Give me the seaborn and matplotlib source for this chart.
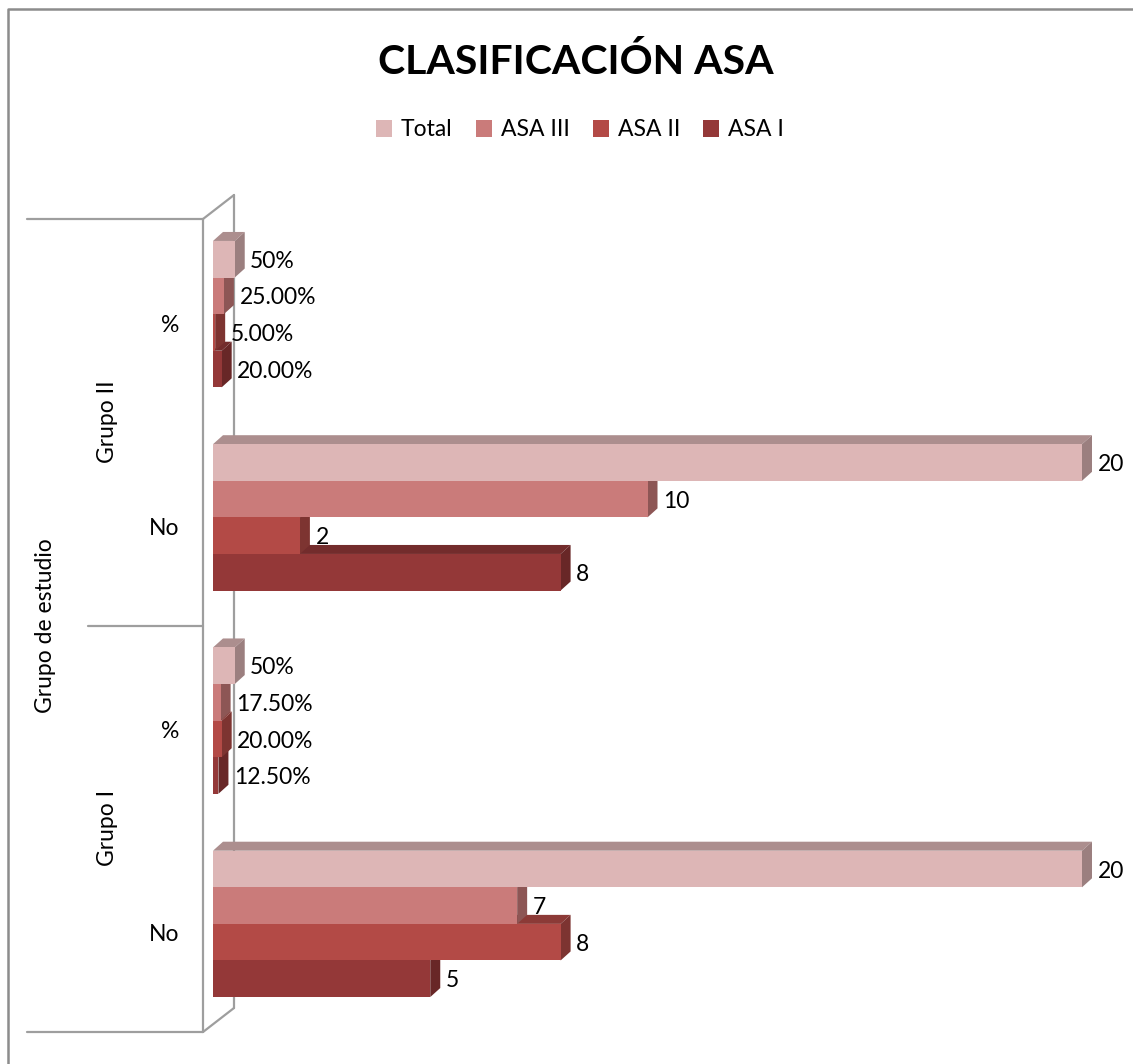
import numpy as np
import pandas as pd
import seaborn as sns
import matplotlib.pyplot as plt
from matplotlib.patches import Polygon
from matplotlib.lines import Line2D
from matplotlib.transforms import ScaledTranslation
from matplotlib.colors import to_rgb

# ---- data ---------------------------------------------------------------
series = ["Total", "ASA III", "ASA II", "ASA I"]
groups = ["Grupo II", "Grupo II", "Grupo I", "Grupo I"]
measures = ["%", "No", "%", "No"]
grupo2_pct = [0.50, 0.25, 0.05, 0.20]
grupo2_no = [20, 10, 2, 8]
grupo1_pct = [0.50, 0.175, 0.20, 0.125]
grupo1_no = [20, 7, 8, 5]
pct_decimals = [0, 2, 2, 2]          # number format per series for the % rows
palette = ["#DDB6B6", "#CA7B7A", "#B34A46", "#943838"]

rows = [f"{g} {m}" for g, m in zip(groups, measures)]
values = [grupo2_pct, grupo2_no, grupo1_pct, grupo1_no]
df = pd.DataFrame(
    [{"fila": r, "serie": s, "valor": v}
     for r, vals in zip(rows, values)
     for s, v in zip(series, vals)]
)

# ---- figure -------------------------------------------------------------
sns.set_style("white")
plt.rcParams["font.family"] = ["Lato", "DejaVu Sans"]
plt.rcParams["text.color"] = "black"
plt.rcParams["ytick.color"] = "black"
plt.rcParams["ytick.labelcolor"] = "black"

W, H = 1133, 1064
fig = plt.figure(figsize=(W / 100, H / 100), dpi=100)


def fx(x):
    return x / W


def fy(y):
    return 1 - y / H


ax = fig.add_axes([fx(213), fy(1025.5), (1082 - 213) / W, 813 / H])
sns.barplot(
    data=df, y="fila", x="valor", hue="serie", order=rows, hue_order=series,
    palette=palette, orient="h", width=0.72, linewidth=0, saturation=1, ax=ax,
)
handles, labels = ax.get_legend_handles_labels()
if ax.get_legend() is not None:
    ax.get_legend().remove()

ax.set_xlim(0, 20)
ax.set_ylim(3.5, -0.5)
ax.patch.set_visible(False)
for sp in ax.spines.values():
    sp.set_visible(False)
ax.set_xticks([])
ax.set_xlabel("")
ax.set_ylabel("")
ax.set_yticks(range(len(rows)))
ax.set_yticklabels(measures)
ax.tick_params(axis="y", length=0, pad=24, labelsize=16.5, labelcolor="black")
shift = ScaledTranslation(0, -0.09, fig.dpi_scale_trans)
for tick in ax.yaxis.get_major_ticks():
    tick.label1.set_transform(tick.label1.get_transform() + shift)

# ---- 3-D faces and value labels ------------------------------------------
px_x = 20 / (1082 - 213)        # data units per pixel along x
px_y = 4 / 813                  # data units per pixel along y
dx, dy = 10 * px_x, 9 * px_y


def shade(c, f):
    r, g, b = to_rgb(c)
    return (r * f, g * f, b * f)


for i, cont in enumerate(ax.containers):
    z = 3 + (len(series) - i)
    col = palette[i]
    for j, rect in enumerate(cont.patches):
        x0 = rect.get_x()
        x1 = x0 + rect.get_width()
        yt = rect.get_y()
        yb = yt + rect.get_height()
        rect.set_zorder(z + 0.2)
        top = Polygon([(x0, yt), (x1, yt), (x1 + dx, yt - dy), (x0 + dx, yt - dy)],
                      closed=True, facecolor=shade(col, 0.78), edgecolor="none",
                      zorder=z + 0.1, clip_on=False)
        side = Polygon([(x1, yt), (x1 + dx, yt - dy), (x1 + dx, yb - dy), (x1, yb)],
                       closed=True, facecolor=shade(col, 0.70), edgecolor="none",
                       zorder=z + 0.1, clip_on=False)
        ax.add_patch(top)
        ax.add_patch(side)

        v = values[j][i]
        if measures[j] == "%":
            txt = f"{v:.{pct_decimals[i]}%}"
        else:
            txt = f"{v:g}"
        ax.annotate(txt, xy=(x1 + dx, (yt + yb) / 2), xytext=(4, -1.5),
                    textcoords="offset points", ha="left", va="center",
                    fontsize=16.5, color="black", zorder=20,
                    annotation_clip=False)

# ---- walls, category separators and outer frame --------------------------
grey = "#9E9E9E"
segments = [
    ((203, 219), (203, 1032)),
    ((234, 195), (234, 1008)),
    ((203, 219), (234, 195)),
    ((203, 1032), (234, 1008)),
    ((27, 219), (203, 219)),
    ((88, 626), (203, 626)),
    ((27, 1032), (203, 1032)),
]
for (xa, ya), (xb, yb) in segments:
    fig.add_artist(Line2D([fx(xa), fx(xb)], [fy(ya), fy(yb)], color=grey,
                          lw=1.6, zorder=-1))
fig.add_artist(Line2D([fx(8), fx(8), fx(W + 5)], [fy(H + 5), fy(9), fy(9)],
                      color="#8C8C8C", lw=1.8, zorder=-1))

# ---- text ----------------------------------------------------------------
fig.text(fx(576), fy(62), "CLASIFICACIÓN ASA", ha="center", va="center",
         fontsize=29.5, fontweight="bold", color="black")
fig.text(fx(107), fy(422), "Grupo II", rotation=90, ha="center", va="center",
         fontsize=16.5, color="black")
fig.text(fx(107), fy(828), "Grupo I", rotation=90, ha="center", va="center",
         fontsize=16.5, color="black")
fig.text(fx(46), fy(626), "Grupo de estudio", rotation=90, ha="center",
         va="center", fontsize=16.5, color="black")

fig.legend(handles, labels, loc="center", bbox_to_anchor=(fx(580), fy(130)),
           ncol=4, frameon=False, fontsize=16.5, handlelength=0.7,
           handleheight=0.7, handletextpad=0.4, columnspacing=1.0,
           labelcolor="black")

fig.savefig("out.png", dpi=100)
